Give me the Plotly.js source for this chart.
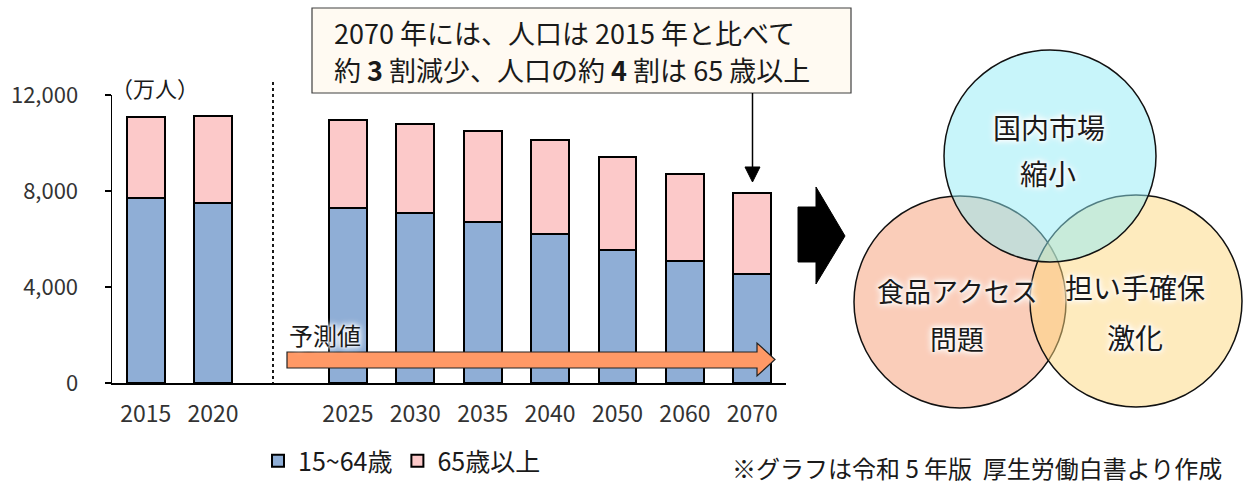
<!DOCTYPE html>
<html>
<head>
<meta charset="utf-8">
<script src="https://cdn.plot.ly/plotly-3.0.1.min.js"></script>
<style>
html,body{margin:0;padding:0;background:#fff;}
#chart{width:1247px;height:484px;}
</style>
</head>
<body>
<div id="chart"></div>
<script>
// ---- data ----
const years = ['2015', '2020', '2025', '2030', '2035', '2040', '2050', '2060', '2070'];
const workingAge = [7728, 7509, 7310, 7076, 6722, 6213, 5540, 5078, 4535];   // 15~64歳
const elderly    = [3347, 3603, 3653, 3696, 3773, 3928, 3888, 3644, 3367];   // 65歳以上
const seriesNames = ['15~64歳', '65歳以上'];
const yTicks = [0, 4000, 8000, 12000];
const vennLabels = [['国内市場', '縮小'], ['食品アクセス', '問題'], ['担い手確保', '激化']];

// ---- layout helpers ----
const W = 1247, H = 484;
const px = x => x / W;
const py = y => 1 - y / H;
const FONT = '"Noto Sans CJK JP", "Noto Sans", sans-serif';
const GLOW = '0 0 3px #fff, 0 0 5px #fff, 0 0 7px #fff, 0 0 9px #fff';
const TXT = '#1a1a1a';

// slot positions: a blank slot separates observed (2015, 2020) from projections
const xpos = years.map((y, i) => i < 2 ? i : i + 1);

const traces = [
  {type: 'bar', name: seriesNames[0], x: xpos, y: workingAge,
   marker: {color: '#8FAED6', line: {color: '#000', width: 2}}, hoverinfo: 'skip'},
  {type: 'bar', name: seriesNames[1], x: xpos, y: elderly,
   marker: {color: '#FCC9C9', line: {color: '#000', width: 2}}, hoverinfo: 'skip'}
];

const circles = [
  {cx: 960, cy: 302, r: 106, fill: 'rgba(245,155,115,0.5)'},
  {cx: 1136, cy: 301, r: 106, fill: 'rgba(253,215,125,0.5)'},
  {cx: 1050, cy: 156, r: 106, fill: 'rgba(145,235,245,0.5)'}
];

const P = (pts) => 'M' + pts.map(p => px(p[0]).toFixed(5) + ',' + py(p[1]).toFixed(5)).join(' L') + ' Z';

const shapes = [
  // dotted separator
  {type: 'line', xref: 'paper', yref: 'paper', x0: px(273), x1: px(273), y0: py(82), y1: py(383),
   line: {color: '#000', width: 1.8, dash: 'dot'}},
  // callout box
  {type: 'rect', xref: 'paper', yref: 'paper', x0: px(312), x1: px(851), y0: py(93), y1: py(8),
   fillcolor: '#FFFAF2', line: {color: '#404040', width: 1.2}},
  // callout arrow line
  {type: 'line', xref: 'paper', yref: 'paper', x0: px(752.5), x1: px(752.5), y0: py(93), y1: py(168),
   line: {color: '#000', width: 1.5}},
  {type: 'path', xref: 'paper', yref: 'paper', path: P([[745, 167], [760, 167], [752.5, 182]]),
   fillcolor: '#000', line: {color: '#000', width: 1}},
  // orange forecast arrow
  {type: 'path', xref: 'paper', yref: 'paper',
   path: P([[287, 352], [757, 352], [757, 343], [775, 359.5], [757, 376], [757, 368], [287, 368]]),
   fillcolor: '#FF9966', line: {color: '#222', width: 1.2}},
  // big black arrow
  {type: 'path', xref: 'paper', yref: 'paper',
   path: P([[798, 207], [816, 207], [816, 187], [845, 236], [816, 284], [816, 262], [798, 262]]),
   fillcolor: '#000', line: {color: '#000', width: 1}}
].concat(circles.map(c => ({
  type: 'circle', xref: 'paper', yref: 'paper',
  x0: px(c.cx - c.r), x1: px(c.cx + c.r), y0: py(c.cy + c.r), y1: py(c.cy - c.r),
  fillcolor: c.fill, line: {color: '#111', width: 1.5}
})));

const ann = (x, y, text, size, extra, opts) => Object.assign({
  xref: 'paper', yref: 'paper', x: px(x), y: py(y), text: text, showarrow: false,
  font: Object.assign({family: FONT, size: size, color: TXT}, extra || {}),
  xanchor: 'center', yanchor: 'middle'
}, opts || {});

const annotations = [
  ann(155, 87, '（万人）', 22),
  ann(332, 33, '2070 年には、人口は 2015 年と比べて', 27, null, {xanchor: 'left'}),
  ann(332, 69, '約 <b>3</b> 割減少、人口の約 <b>4</b> 割は 65 歳以上', 27, null, {xanchor: 'left'}),
  ann(325, 334, '予測値', 24, {shadow: GLOW}),
  ann(1049, 127, vennLabels[0][0], 28, {shadow: GLOW}),
  ann(1048, 173, vennLabels[0][1], 28, {shadow: GLOW}),
  ann(957, 290, vennLabels[1][0], 27, {shadow: GLOW}),
  ann(957, 338, vennLabels[1][1], 27, {shadow: GLOW}),
  ann(1135, 287, vennLabels[2][0], 28, {shadow: GLOW}),
  ann(1135, 337, vennLabels[2][1], 28, {shadow: GLOW}),
  ann(977, 467, '※グラフは令和 5 年版  厚生労働白書より作成', 24)
];

const layout = {
  width: W, height: H,
  margin: {l: 0, r: 0, t: 0, b: 0},
  paper_bgcolor: '#fff', plot_bgcolor: 'rgba(0,0,0,0)',
  font: {family: FONT, color: TXT},
  barmode: 'stack', bargap: 0.44,
  showlegend: true,
  legend: {orientation: 'h', x: px(258), xanchor: 'left', y: py(461), yanchor: 'middle',
           font: {family: FONT, size: 25, color: TXT}, traceorder: 'normal',
           itemwidth: 30, bgcolor: 'rgba(0,0,0,0)'},
  xaxis: {domain: [px(112), px(786)], range: [-0.5, 9.5], tickvals: xpos, ticktext: years,
          ticks: '', showline: true, linecolor: '#000', linewidth: 1.5, showgrid: false, zeroline: false,
          tickfont: {family: FONT, size: 23, color: '#333'}, ticklabelstandoff: 10, fixedrange: true},
  yaxis: {domain: [py(383), py(95)], range: [0, 12000], tickvals: yTicks, tickformat: ',d',
          ticks: 'outside', ticklen: 6, tickwidth: 1.5, tickcolor: '#000',
          showline: true, linecolor: '#000', linewidth: 1.5, showgrid: false, zeroline: false,
          tickfont: {family: FONT, size: 22, color: '#333'}, ticklabelstandoff: 22, fixedrange: true},
  shapes: shapes,
  annotations: annotations
};

Plotly.newPlot('chart', traces, layout, {staticPlot: true, displayModeBar: false});
</script>
</body>
</html>
